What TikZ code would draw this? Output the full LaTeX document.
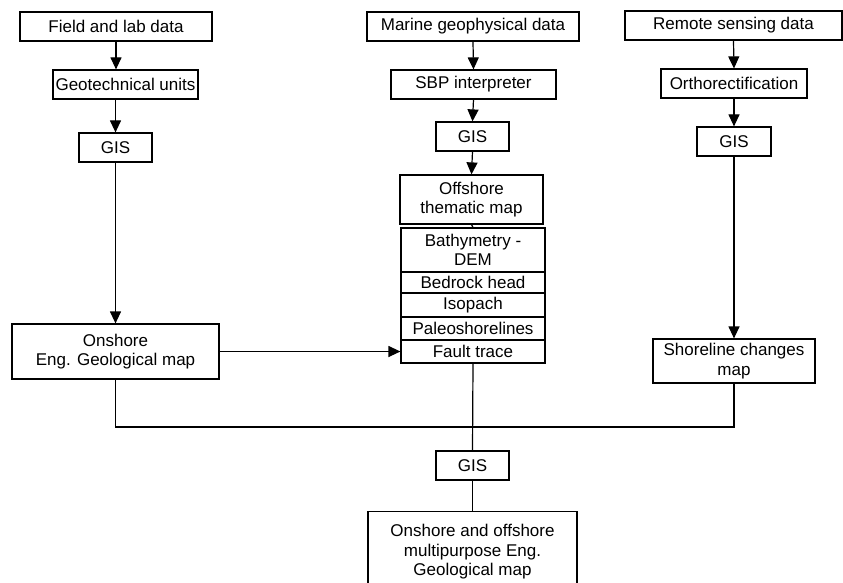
\documentclass[tikz,border=0pt]{standalone}
\usepackage{fontspec}
\setmainfont{Liberation Sans}
\usetikzlibrary{arrows.meta}
\tikzset{
  box/.style={draw, line width=1.2pt, inner sep=0pt, align=center,
    minimum height=29pt, font=\fontsize{17}{19.5}\selectfont},
  flow/.style={line width=1.2pt, -{Triangle[length=12pt,width=11pt]}},
  link/.style={line width=1.2pt}
}
\begin{document}
\begin{tikzpicture}[x=1pt,y=-1pt]
\useasboundingbox (0,0) rectangle (843,583);
\clip (0,0) rectangle (843,583);
% onshore column
\node[box, minimum width=192] (field) at (116,26.5) {Field and lab data};
\node[box, minimum width=145] (geounits) at (125.5,84.5) {Geotechnical units};
\node[box, minimum width=73] (gisa) at (115.5,147.5) {GIS};
\node[box, minimum width=207, minimum height=55] (onshore) at (115.5,351.5) {Onshore\\Eng. Geological map};
% offshore column
\node[box, minimum width=212] (marine) at (473,26.5) {Marine geophysical data};
\node[box, minimum width=165] (sbp) at (473.5,84.5) {SBP interpreter};
\node[box, minimum width=73] (gisb) at (472.5,136.5) {GIS};
\node[box, minimum width=143, minimum height=49] (offshore) at (471.5,199.5) {Offshore\\thematic map};
\foreach \n/\t/\y/\h in {bathy/{Bathymetry -\\DEM}/250/44, bedrock/Bedrock head/282.5/21,
    isopach/Isopach/305/24, paleo/Paleoshorelines/328.5/23, fault/Fault trace/351.5/23}
  \node[box, minimum width=144, minimum height=\h] (\n) at (473,\y) {\t};
% remote sensing column
\node[box, minimum width=217] (remote) at (733.5,25.5) {Remote sensing data};
\node[box, minimum width=146] (ortho) at (734,83.5) {Orthorectification};
\node[box, minimum width=74] (gisc) at (734,141.5) {GIS};
\node[box, minimum width=162, minimum height=44] (shore) at (734,361) {Shoreline changes\\map};
% merged output
\coordinate (join) at (473,427);
\node[box, minimum width=73] (gisd) at (472.5,465.5) {GIS};
\node[box, minimum width=209, minimum height=80, anchor=north] (final) at (472.5,511)
  {Onshore and offshore\\multipurpose Eng.\\Geological map};
% connectors
\draw[flow] (field.south) -- (field.south |- geounits.north);
\draw[flow] (gisa.south |- geounits.south) -- (gisa.north);
\draw[flow] (gisa.south) -- (onshore.north);
\draw[flow] (marine.south) -- (sbp.north);
\draw[flow] (sbp.south) -- (gisb.north);
\draw[flow] (gisb.south) -- (offshore.north);
\draw[link] (offshore.south) -- (bathy.north);
\draw[flow] (remote.south) -- (ortho.north);
\draw[flow] (ortho.south) -- (gisc.north);
\draw[flow] (gisc.south) -- (shore.north);
\draw[flow] (onshore.east) -- (fault.west);
\draw[link] (onshore.south) |- (join) -| (shore.south);
\draw[link] (fault.south) -- (gisd.north);
\draw[link] (gisd.south) -- (final.north);
\end{tikzpicture}
\end{document}
